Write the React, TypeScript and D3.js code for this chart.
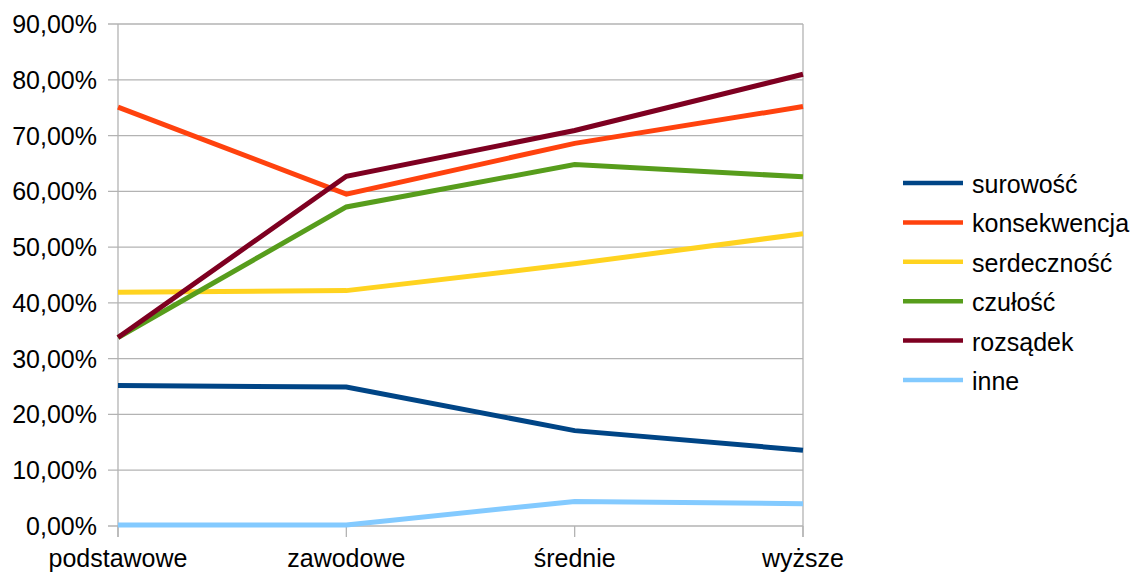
import React from "react";
import * as d3 from "d3";

const categories = ["podstawowe", "zawodowe", "średnie", "wyższe"];
const seriesNames = ["surowość", "konsekwencja", "serdeczność", "czułość", "rozsądek", "inne"];
const surowosc = [25.2, 24.9, 17.1, 13.6];
const konsekwencja = [75.1, 59.5, 68.6, 75.2];
const serdecznosc = [41.9, 42.2, 47.0, 52.4];
const czulosc = [33.8, 57.2, 64.8, 62.6];
const rozsadek = [33.8, 62.7, 70.9, 81.0];
const inne = [0.2, 0.2, 4.4, 4.0];
const seriesColors = ["#004586", "#ff420e", "#ffd320", "#579d1c", "#7e0021", "#83caff"];
const yTicks = [0, 10, 20, 30, 40, 50, 60, 70, 80, 90];

const seriesValues = [surowosc, konsekwencja, serdecznosc, czulosc, rozsadek, inne];

const W = 1137;
const H = 573;
const FONT = "'Liberation Sans', Arial, sans-serif";

export default function App() {
  const x = d3.scalePoint<string>().domain(categories).range([118, 803]);
  const y = d3.scaleLinear().domain([0, 90]).range([526, 24]);
  const line = d3
    .line<number>()
    .x((_, i) => x(categories[i]) as number)
    .y((d) => y(d));

  const legendY = d3.scalePoint<string>().domain(seriesNames).range([183, 380]);

  return (
    <svg
      width={W}
      height={H}
      style={{ position: "absolute", left: 0, top: 0, background: "#fff" }}
      fontFamily={FONT}
    >
      <rect x={0} y={0} width={W} height={H} fill="#fff" />
      {yTicks.map((t) => (
        <g key={t}>
          <line x1={108} x2={803} y1={y(t)} y2={y(t)} stroke="#b3b3b3" strokeWidth={1.3} />
          <text x={97} y={y(t) + 9} fontSize={25} textAnchor="end" fill="#000">
            {d3.format(".2f")(t).replace(".", ",") + "%"}
          </text>
        </g>
      ))}
      <line x1={118} x2={118} y1={24} y2={537} stroke="#b3b3b3" strokeWidth={1.3} />
      <line x1={803} x2={803} y1={24} y2={537} stroke="#b3b3b3" strokeWidth={1.3} />
      {categories.map((c) => (
        <g key={c}>
          <line x1={x(c)} x2={x(c)} y1={526} y2={537} stroke="#b3b3b3" strokeWidth={1.3} />
          <text x={x(c)} y={567} fontSize={25} textAnchor="middle" fill="#000">
            {c}
          </text>
        </g>
      ))}
      {seriesValues.map((vals, i) => (
        <path
          key={seriesNames[i]}
          d={line(vals) || ""}
          fill="none"
          stroke={seriesColors[i]}
          strokeWidth={5}
          strokeLinejoin="miter"
        />
      ))}
      {seriesNames.map((n, i) => (
        <g key={n}>
          <line
            x1={903}
            x2={963}
            y1={legendY(n)}
            y2={legendY(n)}
            stroke={seriesColors[i]}
            strokeWidth={4.5}
          />
          <text x={972} y={(legendY(n) as number) + 10} fontSize={25} fill="#000">
            {n}
          </text>
        </g>
      ))}
    </svg>
  );
}
